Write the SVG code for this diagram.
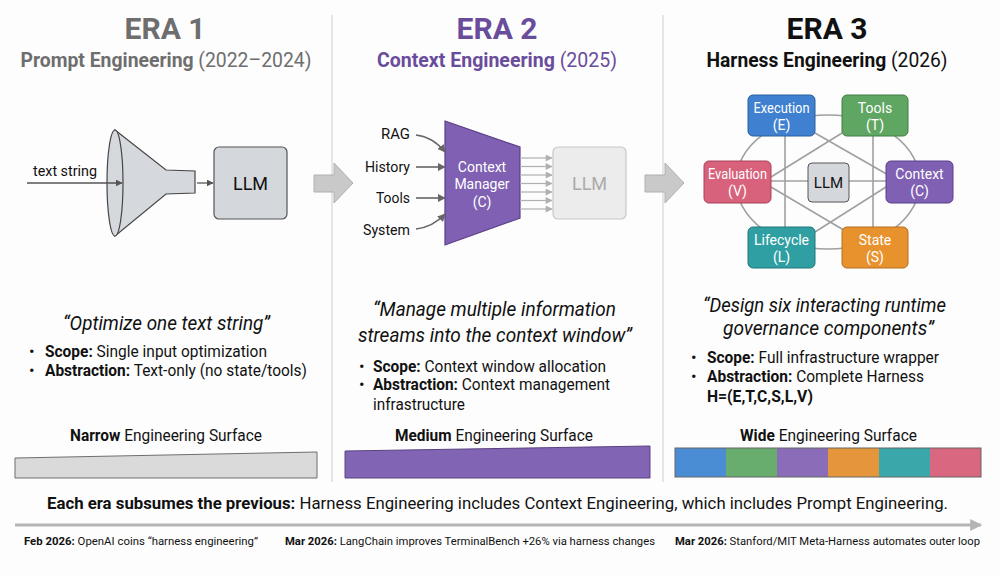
<svg xmlns="http://www.w3.org/2000/svg" width="1000" height="575" viewBox="0 0 1000 575">
<defs>
<style>
text{font-family:Roboto,"Liberation Sans",sans-serif}
.t1{font-size:30px;font-weight:700;text-anchor:middle}
.t2{font-size:19.500px;text-anchor:middle}
.b{font-weight:700}
.q{font-size:20.500px;font-style:italic;text-anchor:middle;fill:#111}
.bl{font-size:16.500px;fill:#111}
.sf{font-size:16.500px;text-anchor:middle;fill:#111}
.lbl{font-size:15px;fill:#111}
.nt{font-size:14px;fill:#fff;text-anchor:middle}
.ln{stroke:#a0a0a0;stroke-width:1.6;fill:none}
.tl{font-size:11.200px;fill:#111}
</style>
<marker id="ah" viewBox="0 0 10 10" refX="9" refY="5" markerWidth="7" markerHeight="7" orient="auto" markerUnits="userSpaceOnUse"><path d="M0,0L10,5L0,10z" fill="#555"/></marker>
<marker id="ah2" viewBox="0 0 10 10" refX="9" refY="5" markerWidth="8" markerHeight="8" orient="auto" markerUnits="userSpaceOnUse"><path d="M0,0L10,5L0,10z" fill="#666"/></marker>
<marker id="ahl" viewBox="0 0 10 10" refX="9" refY="5" markerWidth="8" markerHeight="7" orient="auto" markerUnits="userSpaceOnUse"><path d="M0,0L10,5L0,10z" fill="#b0b0b0"/></marker>
<marker id="aht" viewBox="0 0 10 10" refX="9" refY="5" markerWidth="14" markerHeight="12" orient="auto" markerUnits="userSpaceOnUse"><path d="M0,0L10,5L0,10z" fill="#b5b5b5"/></marker>
</defs>
<rect width="1000" height="575" fill="#fdfdfd"/>
<g id="dividers" stroke="#dcdcdc" stroke-width="1.5">
<line x1="332" y1="15" x2="332" y2="482"/>
<line x1="663" y1="15" x2="663" y2="482"/>
</g>

<g id="era1-title">
<text class="t1" x="165" y="39" fill="#6e6e6e">ERA 1</text>
<text class="t2" x="166" y="67" fill="#6e6e6e" textLength="291" lengthAdjust="spacingAndGlyphs"><tspan class="b">Prompt Engineering</tspan> (2022–2024)</text>
</g>
<g id="era2-title">
<text class="t1" x="497" y="39" fill="#6a4c9c">ERA 2</text>
<text class="t2" x="497" y="67" fill="#6a4c9c" textLength="240" lengthAdjust="spacingAndGlyphs"><tspan class="b">Context Engineering</tspan> (2025)</text>
</g>
<g id="era3-title">
<text class="t1" x="827" y="39" fill="#111">ERA 3</text>
<text class="t2" x="827" y="67" fill="#111" textLength="241" lengthAdjust="spacingAndGlyphs"><tspan class="b">Harness Engineering</tspan> (2026)</text>
</g>

<g id="era-arrows" fill="#c9c9c9" stroke="#b0b0b0" stroke-width="1">
<path d="M314,175H334V163L353,183L334,203V192H314Z"/>
<path d="M645,175H665V163L684,183L665,203V192H645Z"/>
</g>

<!-- ERA 1 -->
<g id="funnel">
<path d="M115,130L166,170L195,171V193L166,194L115,236Z" fill="#d5d8dc" stroke="#444" stroke-width="1.2"/>
<ellipse cx="115" cy="183" rx="8" ry="53" fill="#d5d8dc" stroke="#444" stroke-width="1.2"/>
</g>
<g id="text-string">
<text class="lbl" x="33" y="176" textLength="64" lengthAdjust="spacingAndGlyphs">text string</text>
</g>
<g id="llm1">
<rect x="214" y="147" width="73" height="72" rx="5" fill="#d4d7db" stroke="#555" stroke-width="1.2"/>
<text x="250.500" y="190" font-size="18" text-anchor="middle" fill="#111">LLM</text>
</g>

<!-- ERA 2 -->
<g id="inputs">
<text class="lbl" x="410" y="139" text-anchor="end" textLength="29" lengthAdjust="spacingAndGlyphs">RAG</text>
<text class="lbl" x="410" y="172" text-anchor="end" textLength="45" lengthAdjust="spacingAndGlyphs">History</text>
<text class="lbl" x="410" y="203" text-anchor="end" textLength="34" lengthAdjust="spacingAndGlyphs">Tools</text>
<text class="lbl" x="410" y="235" text-anchor="end" textLength="47" lengthAdjust="spacingAndGlyphs">System</text>
</g>
<g id="context-manager">
<path d="M445,121L520,147V218L445,245Z" fill="#7f60b2" stroke="#5a4088" stroke-width="1.2"/>
<text class="nt" x="482" y="172" font-size="14.500">Context</text>
<text class="nt" x="482" y="189" font-size="14.500">Manager</text>
<text class="nt" x="482" y="207" font-size="14.500">(C)</text>
</g>
<g id="llm2">
<rect x="553" y="147" width="73" height="72" rx="5" fill="#ececec" stroke="#c8c8c8" stroke-width="1.2"/>
<text x="589.500" y="190" font-size="18" text-anchor="middle" fill="#aaa">LLM</text>
</g>

<!-- ERA 3 -->
<g id="harness-links" class="ln">
<ellipse cx="828" cy="182" rx="92" ry="67"/>
<line x1="785" y1="136" x2="785" y2="227"/>
<line x1="873" y1="136" x2="873" y2="227"/>
<line x1="771" y1="181" x2="886" y2="181"/>
<line x1="815" y1="133" x2="890" y2="176"/>
<line x1="842" y1="133" x2="771" y2="177"/>
<line x1="771" y1="187" x2="847" y2="232"/>
<line x1="886" y1="187" x2="815" y2="232"/>
</g>
<g id="node-execution">
<rect x="748" y="95" width="67" height="41" rx="5" fill="#3f80d0" stroke="#2b5e9e"/>
<text class="nt" x="781.500" y="113" textLength="56" lengthAdjust="spacingAndGlyphs">Execution</text><text class="nt" x="781.500" y="130">(E)</text>
</g>
<g id="node-tools">
<rect x="842" y="95" width="66" height="41" rx="5" fill="#5fa663" stroke="#437d46"/>
<text class="nt" x="875" y="113">Tools</text><text class="nt" x="875" y="130">(T)</text>
</g>
<g id="node-evaluation">
<rect x="704" y="161" width="67" height="42" rx="5" fill="#d8617c" stroke="#a84259"/>
<text class="nt" x="737.500" y="179" textLength="59" lengthAdjust="spacingAndGlyphs">Evaluation</text><text class="nt" x="737.500" y="196">(V)</text>
</g>
<g id="node-llm">
<rect x="808" y="163" width="41" height="39" rx="4" fill="#d4d7db" stroke="#555"/>
<text x="828.500" y="188" font-size="15" text-anchor="middle" fill="#111">LLM</text>
</g>
<g id="node-context">
<rect x="886" y="161" width="67" height="42" rx="5" fill="#7f60b2" stroke="#5a4088"/>
<text class="nt" x="919.500" y="179">Context</text><text class="nt" x="919.500" y="196">(C)</text>
</g>
<g id="node-lifecycle">
<rect x="748" y="227" width="67" height="41" rx="5" fill="#2f9fa3" stroke="#217679"/>
<text class="nt" x="781.500" y="245">Lifecycle</text><text class="nt" x="781.500" y="262">(L)</text>
</g>
<g id="node-state">
<rect x="842" y="227" width="66" height="41" rx="5" fill="#e8922e" stroke="#b56e1e"/>
<text class="nt" x="875" y="245">State</text><text class="nt" x="875" y="262">(S)</text>
</g>

<g id="connectors">
<line x1="27" y1="183" x2="122" y2="183" stroke="#555" stroke-width="1.3" marker-end="url(#ah)"/>
<line x1="197" y1="183" x2="213" y2="183" stroke="#555" stroke-width="1.3" marker-end="url(#ah)"/>
<path d="M416,135Q433,137 445,152" stroke="#666" stroke-width="1.6" fill="none" marker-end="url(#ah2)"/>
<line x1="416" y1="167" x2="445" y2="167" stroke="#666" stroke-width="1.6" marker-end="url(#ah2)"/>
<line x1="416" y1="198" x2="445" y2="198" stroke="#666" stroke-width="1.6" marker-end="url(#ah2)"/>
<path d="M416,229Q433,227 445,214" stroke="#666" stroke-width="1.6" fill="none" marker-end="url(#ah2)"/>
<g stroke="#b0b0b0" stroke-width="1.2" marker-end="url(#ahl)">
<line x1="520" y1="158" x2="552" y2="158"/>
<line x1="520" y1="166.500" x2="552" y2="166.500"/>
<line x1="520" y1="175" x2="552" y2="175"/>
<line x1="520" y1="183.500" x2="552" y2="183.500"/>
<line x1="520" y1="192" x2="552" y2="192"/>
<line x1="520" y1="200.500" x2="552" y2="200.500"/>
<line x1="520" y1="209" x2="552" y2="209"/>
</g>
</g>

<!-- lower texts -->
<g id="era1-desc">
<text class="q" x="166.500" y="330" textLength="207" lengthAdjust="spacingAndGlyphs">“Optimize one text string”</text>
<text class="bl" x="29" y="357">•</text><text class="bl" x="45" y="357" textLength="222" lengthAdjust="spacingAndGlyphs"><tspan class="b">Scope:</tspan> Single input optimization</text>
<text class="bl" x="29" y="376">•</text><text class="bl" x="45" y="376" textLength="262" lengthAdjust="spacingAndGlyphs"><tspan class="b">Abstraction:</tspan> Text-only (no state/tools)</text>
<text class="sf" x="166" y="441" textLength="192" lengthAdjust="spacingAndGlyphs"><tspan class="b">Narrow</tspan> Engineering Surface</text>
<path d="M15,458L317,452V478H15Z" fill="#dadada" stroke="#6e6e6e" stroke-width="1"/>
</g>
<g id="era2-desc">
<text class="q" x="494.500" y="316" textLength="243" lengthAdjust="spacingAndGlyphs">“Manage multiple information</text>
<text class="q" x="495" y="342" textLength="274" lengthAdjust="spacingAndGlyphs">streams into the context window”</text>
<text class="bl" x="359" y="372">•</text><text class="bl" x="373" y="372" textLength="233" lengthAdjust="spacingAndGlyphs"><tspan class="b">Scope:</tspan> Context window allocation</text>
<text class="bl" x="359" y="390">•</text><text class="bl" x="373" y="390" textLength="237" lengthAdjust="spacingAndGlyphs"><tspan class="b">Abstraction:</tspan> Context management</text>
<text class="bl" x="373" y="410" textLength="92" lengthAdjust="spacingAndGlyphs">infrastructure</text>
<text class="sf" x="494" y="441" textLength="198" lengthAdjust="spacingAndGlyphs"><tspan class="b">Medium</tspan> Engineering Surface</text>
<path d="M345,451L650,446V478H345Z" fill="#8264b4" stroke="#5a4480" stroke-width="1"/>
</g>
<g id="era3-desc">
<text class="q" x="824.500" y="312" textLength="243" lengthAdjust="spacingAndGlyphs">“Design six interacting runtime</text>
<text class="q" x="828.500" y="335" textLength="211" lengthAdjust="spacingAndGlyphs">governance components”</text>
<text class="bl" x="691" y="363">•</text><text class="bl" x="707" y="363" textLength="232" lengthAdjust="spacingAndGlyphs"><tspan class="b">Scope:</tspan> Full infrastructure wrapper</text>
<text class="bl" x="691" y="382">•</text><text class="bl" x="707" y="382" textLength="217" lengthAdjust="spacingAndGlyphs"><tspan class="b">Abstraction:</tspan> Complete Harness</text>
<text class="bl b" x="707" y="402" textLength="106" lengthAdjust="spacingAndGlyphs">H=(E,T,C,S,L,V)</text>
<text class="sf" x="828.500" y="441" textLength="177" lengthAdjust="spacingAndGlyphs"><tspan class="b">Wide</tspan> Engineering Surface</text>
<g stroke="none">
<rect x="675" y="448" width="51" height="29" fill="#4a8dd5"/>
<rect x="726" y="448" width="51" height="29" fill="#68ad6d"/>
<rect x="777" y="448" width="51" height="29" fill="#8a6cb8"/>
<rect x="828" y="448" width="51" height="29" fill="#e6963a"/>
<rect x="879" y="448" width="51" height="29" fill="#3aa8aa"/>
<rect x="930" y="448" width="51" height="29" fill="#d8677f"/>
</g>
<rect x="675" y="448" width="306" height="29" fill="none" stroke="#666" stroke-width="1"/>
</g>

<g id="summary">
<text x="497.500" y="509" font-size="16.800" text-anchor="middle" fill="#111" textLength="901" lengthAdjust="spacingAndGlyphs"><tspan class="b">Each era subsumes the previous:</tspan> Harness Engineering includes Context Engineering, which includes Prompt Engineering.</text>
</g>
<g id="timeline">
<line x1="15" y1="525" x2="981" y2="525" stroke="#b5b5b5" stroke-width="3" marker-end="url(#aht)"/>
<text class="tl" x="24" y="545" textLength="234" lengthAdjust="spacingAndGlyphs"><tspan class="b">Feb 2026:</tspan> OpenAI coins “harness engineering”</text>
<text class="tl" x="285" y="545" textLength="370" lengthAdjust="spacingAndGlyphs"><tspan class="b">Mar 2026:</tspan> LangChain improves TerminalBench +26% via harness changes</text>
<text class="tl" x="675" y="545" textLength="305" lengthAdjust="spacingAndGlyphs"><tspan class="b">Mar 2026:</tspan> Stanford/MIT Meta-Harness automates outer loop</text>
</g>
</svg>
